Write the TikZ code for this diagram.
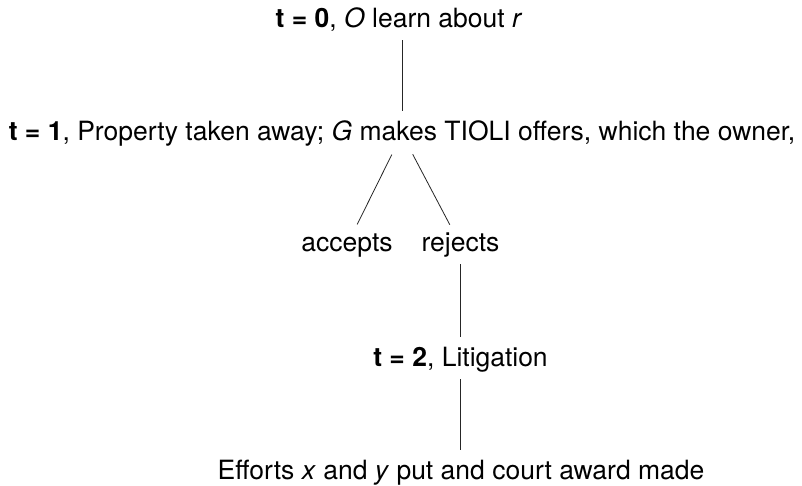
\documentclass[tikz,border=0pt]{standalone}
\usepackage{fontspec}
\setmainfont{TeX Gyre Heros}
\begin{document}
\begin{tikzpicture}[x=1pt,y=-1pt,
  lbl/.style={anchor=base,inner sep=0pt,text height=18pt,text depth=6pt,font=\fontsize{26.5}{31}\selectfont},
  conn/.style={line width=0.8pt,black!85,shorten <=19pt,shorten >=23pt},
  diag/.style={line width=0.8pt,black!85,shorten <=23pt,shorten >=23pt}]
\useasboundingbox[fill=white] (0,0) rectangle (802,485);
\node[lbl] (t0) at (399,27) {\textbf{t = 0}, \textit{O} learn about \textit{r}};
\node[lbl] (t1) at (402,140) {\textbf{t = 1}, Property taken away; \textit{G} makes TIOLI offers, which the owner,};
\node[lbl] (acc) at (347,251) {accepts};
\node[lbl] (rej) at (460.5,251) {rejects};
\node[lbl] (t2) at (460.5,366) {\textbf{t = 2}, Litigation};
\node[lbl] (eff) at (461,479) {Efforts \textit{x} and \textit{y} put and court award made};
\draw[conn] (t1.center |- t0.center) -- (t1.center);
\draw[diag] (t1.center) -- (acc.center);
\draw[diag] (t1.center) -- (rej.center);
\draw[conn] (rej.center) -- (t2.center);
\draw[conn] (t2.center) -- (eff.center -| t2.center);
\end{tikzpicture}
\end{document}
